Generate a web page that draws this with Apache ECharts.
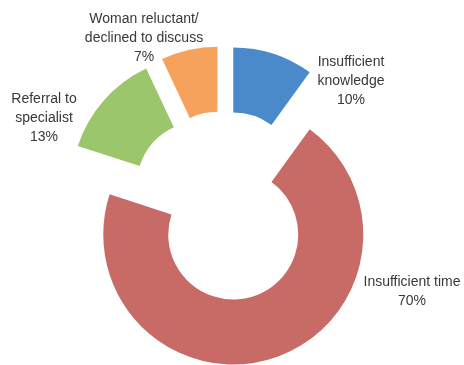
<!DOCTYPE html>
<html>
<head>
<meta charset="utf-8">
<script src="https://cdn.jsdelivr.net/npm/echarts@6/dist/echarts.min.js"></script>
<style>
html,body{margin:0;padding:0;background:#fff;}
#chart{width:464px;height:365px;}
</style>
</head>
<body>
<div id="chart"></div>
<script>
var categories = ['Insufficient knowledge', 'Insufficient time', 'Referral to specialist', 'Woman reluctant/declined to discuss'];
var labelTexts = ['Insufficient\nknowledge', 'Insufficient time', 'Referral to\nspecialist', 'Woman reluctant/\ndeclined to discuss'];
var values = [10, 70, 13, 7];
var colors = ['#4a8acb', '#c86a66', '#9cc66b', '#f7a25c'];
var labelPos = [[351, 81], [412, 292], [44, 118], [144, 38]];

var chart = echarts.init(document.getElementById('chart'), null, {renderer: 'canvas'});
var data = categories.map(function (c, i) {
  return {name: c, value: values[i], selected: true, itemStyle: {color: colors[i]}};
});
var texts = categories.map(function (c, i) {
  return {
    type: 'text',
    silent: true,
    x: labelPos[i][0],
    y: labelPos[i][1],
    style: {
      text: labelTexts[i] + '\n' + values[i] + '%',
      fontFamily: 'Liberation Sans',
      fontSize: 14,
      lineHeight: 19,
      fill: '#383838',
      align: 'center',
      verticalAlign: 'middle',
      textAlign: 'center',
      textVerticalAlign: 'middle'
    }
  };
});
chart.setOption({
  animation: false,
  graphic: texts,
  series: [{
    type: 'pie',
    center: [224, 206],
    radius: [65, 130],
    startAngle: 90,
    clockwise: true,
    selectedMode: 'multiple',
    selectedOffset: 30,
    silent: true,
    emphasis: {disabled: true},
    data: data,
    label: {show: false},
    labelLine: {show: false}
  }]
});
</script>
</body>
</html>
